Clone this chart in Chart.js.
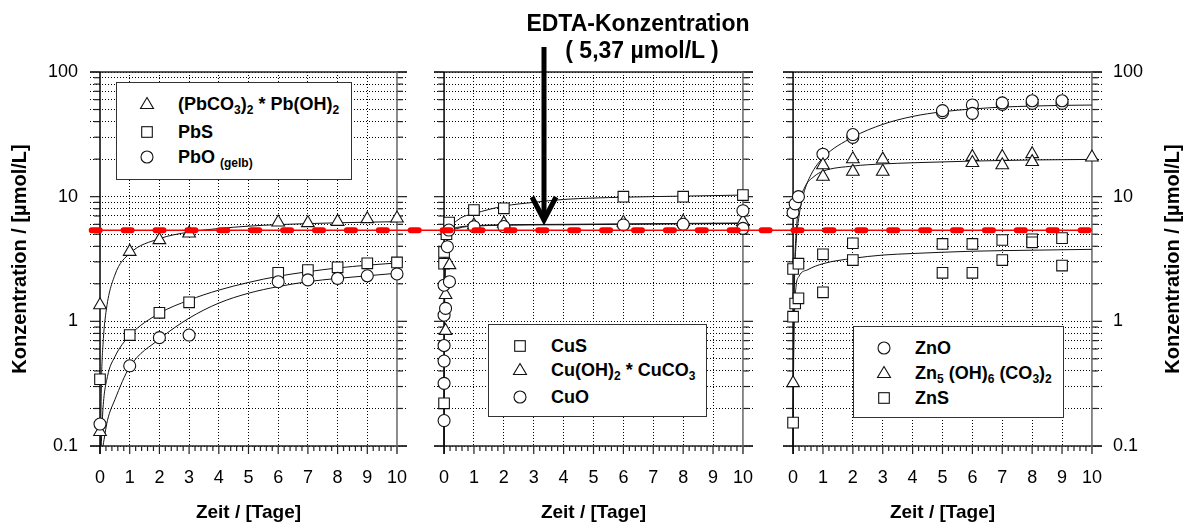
<!DOCTYPE html>
<html lang="de">
<head>
<meta charset="UTF-8">
<title>Konzentration / Zeit</title>
<script src="https://cdn.jsdelivr.net/npm/chart.js"></script>
<style>
  body { margin: 0; background: #fff; font-family: 'Liberation Sans', Arial, sans-serif; }
  #stage { position: relative; width: 1188px; height: 525px; overflow: hidden; }
  #stage canvas { position: absolute; left: 0; top: 0; }
  .legend { position: absolute; background: #fff; border: 1.4px solid #333; z-index: 5; box-sizing: border-box; }
  .row { position: absolute; height: 20px; line-height: 20px; font-weight: bold; font-size: 18px; white-space: nowrap; }
  .mk { position: absolute; width: 16px; height: 16px; }
  sub { font-size: 12px; vertical-align: -4px; line-height: 0; }
  .note { position: absolute; font-weight: bold; font-size: 23px; white-space: nowrap; transform: translate(-50%, -50%); z-index: 6; }
  .ytitle { position: absolute; font-weight: bold; font-size: 20px; white-space: nowrap;
            transform: translate(-50%, -50%) rotate(-90deg); z-index: 6; }
  #arrow { position: absolute; left: 0; top: 0; z-index: 6; }
</style>
</head>
<body>
<div id="stage">
  <canvas id="pb" width="1188" height="525"></canvas>
  <canvas id="cu" width="1188" height="525"></canvas>
  <canvas id="zn" width="1188" height="525"></canvas>

  <div class="legend" style="left:116px;top:82px;width:236px;height:98px;">
    <svg class="mk" style="left:22px;top:13px" viewBox="-8 -8 16 16"><polygon points="0,-6.5 6.5,4.5 -6.5,4.5" fill="#fff" stroke="#111" stroke-width="1.1"/></svg>
    <div class="row" style="left:61px;top:11px">(PbCO<sub>3</sub>)<sub>2</sub> * Pb(OH)<sub>2</sub></div>
    <svg class="mk" style="left:22px;top:41px" viewBox="-8 -8 16 16"><rect x="-5.3" y="-5.3" width="10.6" height="10.6" fill="#fff" stroke="#111" stroke-width="1.1"/></svg>
    <div class="row" style="left:61px;top:39px">PbS</div>
    <svg class="mk" style="left:22px;top:66px" viewBox="-8 -8 16 16"><circle r="6" fill="#fff" stroke="#111" stroke-width="1.1"/></svg>
    <div class="row" style="left:61px;top:64px">PbO <sub>(gelb)</sub></div>
  </div>

  <div class="legend" style="left:488px;top:324px;width:219px;height:93px;">
    <svg class="mk" style="left:23px;top:13px" viewBox="-8 -8 16 16"><rect x="-5.3" y="-5.3" width="10.6" height="10.6" fill="#fff" stroke="#111" stroke-width="1.1"/></svg>
    <div class="row" style="left:62px;top:11px">CuS</div>
    <svg class="mk" style="left:23px;top:37px" viewBox="-8 -8 16 16"><polygon points="0,-6.5 6.5,4.5 -6.5,4.5" fill="#fff" stroke="#111" stroke-width="1.1"/></svg>
    <div class="row" style="left:62px;top:35px">Cu(OH)<sub>2</sub> * CuCO<sub>3</sub></div>
    <svg class="mk" style="left:23px;top:64px" viewBox="-8 -8 16 16"><circle r="6" fill="#fff" stroke="#111" stroke-width="1.1"/></svg>
    <div class="row" style="left:62px;top:62px">CuO</div>
  </div>

  <div class="legend" style="left:853px;top:326px;width:211px;height:92px;">
    <svg class="mk" style="left:22px;top:13px" viewBox="-8 -8 16 16"><circle r="6" fill="#fff" stroke="#111" stroke-width="1.1"/></svg>
    <div class="row" style="left:61px;top:11px">ZnO</div>
    <svg class="mk" style="left:22px;top:38px" viewBox="-8 -8 16 16"><polygon points="0,-6.5 6.5,4.5 -6.5,4.5" fill="#fff" stroke="#111" stroke-width="1.1"/></svg>
    <div class="row" style="left:61px;top:36px">Zn<sub>5</sub> (OH)<sub>6</sub> (CO<sub>3</sub>)<sub>2</sub></div>
    <svg class="mk" style="left:22px;top:63px" viewBox="-8 -8 16 16"><rect x="-5.3" y="-5.3" width="10.6" height="10.6" fill="#fff" stroke="#111" stroke-width="1.1"/></svg>
    <div class="row" style="left:61px;top:61px">ZnS</div>
  </div>

  <div class="note" style="left:638px;top:23px;">EDTA-Konzentration</div>
  <div class="note" style="left:642px;top:50px;">( 5,37 µmol/L )</div>
  <svg id="arrow" width="1188" height="525">
    <line x1="544" y1="47" x2="544" y2="218" stroke="#000" stroke-width="5"/>
    <polyline points="532,197 544,220 556,197" fill="none" stroke="#000" stroke-width="5" stroke-linejoin="miter"/>
  </svg>

  <div class="ytitle" style="left:1172px;top:259px;">Konzentration / [µmol/L]</div>
</div>

<script>
// ticks
const dayTicks = [0, 1, 2, 3, 4, 5, 6, 7, 8, 9, 10];
const concLabels = [0.1, 1, 10, 100];
const concGrid = [0.1, 0.2, 0.3, 0.4, 0.5, 0.6, 0.7, 0.8, 0.9,
                  1, 2, 3, 4, 5, 6, 7, 8, 9,
                  10, 20, 30, 40, 50, 60, 70, 80, 90, 100];

// EDTA-Konzentration (µmol/L)
const edtaConc = 5.37;

// Blei
const pbHydroX = [0, 0, 1, 2, 3, 6, 7, 8, 9, 10];
const pbHydroY = [1.35, 0.13, 3.62, 4.49, 5.08, 6.23, 6.15, 6.3, 6.62, 6.7];
const pbSX = [0, 1, 2, 3, 6, 7, 8, 9, 10];
const pbSY = [0.343, 0.776, 1.17, 1.42, 2.45, 2.58, 2.71, 2.92, 2.97];
const pbOX = [0, 1, 2, 3, 6, 7, 8, 9, 10];
const pbOY = [0.15, 0.44, 0.74, 0.776, 2.08, 2.15, 2.21, 2.32, 2.4];

const pbHydroFitX = [0.015, 0.05, 0.1, 0.2, 0.5, 1, 2, 3, 4, 5, 6, 7, 8, 9, 10];
const pbHydroFitY = [0.1, 0.34, 0.65, 1.18, 2.35, 3.5, 4.6, 5.2, 5.55, 5.8, 5.97, 6.08, 6.17, 6.24, 6.3];
const pbSFitX = [0.04, 0.1, 0.25, 0.5, 1, 2, 3, 4, 5, 6, 7, 8, 9, 10];
const pbSFitY = [0.1, 0.2, 0.36, 0.52, 0.77, 1.16, 1.48, 1.78, 2.05, 2.3, 2.5, 2.68, 2.82, 2.94];
const pbOFitX = [0.1, 0.25, 0.5, 1, 2, 3, 4, 5, 6, 7, 8, 9, 10];
const pbOFitY = [0.1, 0.16, 0.235, 0.43, 0.72, 1.06, 1.4, 1.68, 1.9, 2.08, 2.21, 2.32, 2.43];

// Kupfer
const cuSX = [0, 0, 0, 0.08, 0.17, 1, 2, 6, 8, 10];
const cuSY = [0.22, 2.9, 3.6, 5.0, 6.2, 7.8, 8.06, 10.0, 10.0, 10.3];
const cuHydroX = [0.05, 0.05, 0.18, 1, 2, 6, 8, 10];
const cuHydroY = [0.84, 1.63, 2.83, 5.9, 6.1, 6.2, 6.3, 6.3];
const cuOX = [0, 0, 0, 0, 0, 0.05, 0, 0.18, 0.11, 0.16, 1, 2, 6, 8, 10, 10];
const cuOY = [0.16, 0.318, 0.48, 0.64, 1.12, 1.27, 1.95, 2.08, 3.97, 5.4, 5.74, 5.76, 5.93, 6.0, 5.57, 7.72];

const cuSFitX = [0, 0.02, 0.05, 0.1, 0.2, 0.5, 1, 2, 3, 4, 6, 8, 10];
const cuSFitY = [0.1, 1.5, 3.0, 4.3, 5.4, 6.6, 7.3, 8.4, 9.0, 9.5, 9.9, 10.1, 10.3];
const cuHydroFitX = [0, 0.01, 0.03, 0.06, 0.1, 0.2, 0.5, 1, 2, 4, 6, 8, 10];
const cuHydroFitY = [0.1, 1.0, 2.5, 3.8, 4.6, 5.3, 5.7, 5.85, 5.95, 6.0, 6.05, 6.1, 6.15];
const cuOFitX = [0, 0.01, 0.03, 0.06, 0.1, 0.2, 0.5, 1, 2, 4, 6, 8, 10];
const cuOFitY = [0.1, 0.8, 2.1, 3.4, 4.3, 5.1, 5.6, 5.8, 5.9, 5.95, 6.0, 6.05, 6.1];

// Zink
const znOX = [0, 0.07, 0.18, 1, 2, 2, 5, 5, 6, 6, 7, 7, 8, 8, 9, 9];
const znOY = [7.45, 8.76, 10.0, 21.9, 29.9, 31.5, 47.2, 49, 54.4, 46.6, 54.9, 56.5, 56, 58.8, 56, 58.8];
const znHydroX = [0, 1, 1, 2, 2, 3, 3, 6, 6, 7, 7, 8, 8, 10];
const znHydroY = [0.32, 17.9, 14.5, 20.0, 15.9, 19.9, 15.9, 20.9, 18.7, 20.9, 17.9, 22.0, 19.0, 20.7];
const znSX = [0, 0, 0.07, 0.18, 0, 0.18, 1, 1, 2, 2, 5, 5, 6, 6, 7, 7, 8, 8, 9, 9];
const znSY = [0.154, 1.09, 1.39, 1.53, 2.63, 2.9, 3.45, 1.71, 4.23, 3.1, 4.18, 2.45, 4.18, 2.45, 4.49, 3.1, 4.55, 4.3, 4.65, 2.8];

const znOFitX = [0, 0.02, 0.05, 0.1, 0.2, 0.35, 0.6, 1, 2, 3, 4, 5, 6, 7, 8, 9, 10];
const znOFitY = [0.1, 0.8, 2.2, 4.2, 7.0, 10.5, 15, 20.5, 30, 38, 44, 48, 50.5, 52.3, 53.3, 54, 54.3];
const znHydroFitX = [0, 0.02, 0.05, 0.1, 0.2, 0.4, 0.7, 1, 2, 3, 4, 6, 8, 10];
const znHydroFitY = [0.1, 1.0, 2.6, 5.0, 8.5, 12, 14.5, 16, 17.6, 18.3, 18.7, 19.3, 19.7, 19.9];
const znSFitX = [0, 0.02, 0.05, 0.1, 0.2, 0.5, 1, 2, 3, 4, 6, 8, 10];
const znSFitY = [0.1, 0.5, 1.2, 1.9, 2.3, 2.6, 2.9, 3.2, 3.4, 3.5, 3.65, 3.72, 3.78];

const FONT = "'Liberation Sans', Arial, sans-serif";
const INK = '#111';

function xy(xs, ys) {
  return xs.map((x, i) => ({ x: x, y: ys[i] }));
}

function marks(xs, ys, style) {
  const r = style === 'circle' ? 6 : style === 'rect' ? 7.5 : 7.3;
  return {
    data: xy(xs, ys), showLine: false, order: 1,
    pointStyle: style, pointRadius: r,
    pointBackgroundColor: '#fff', pointBorderColor: INK, pointBorderWidth: 1.1
  };
}

function fit(xs, ys) {
  return {
    data: xy(xs, ys), order: 2, pointRadius: 0,
    borderColor: INK, borderWidth: 1, cubicInterpolationMode: 'monotone'
  };
}

// red reference line: thin line plus thick rounded dashes
function edtaLine(from, to, dashOffset) {
  const pts = [{ x: from, y: edtaConc }, { x: to, y: edtaConc }];
  return [
    { data: pts, order: 0, clip: false, pointRadius: 0, borderColor: '#ff0000', borderWidth: 1.5 },
    { data: pts, order: 0, clip: false, pointRadius: 0, borderColor: '#ff0000', borderWidth: 6,
      borderCapStyle: 'round', borderDash: [8, 23.9], borderDashOffset: dashOffset }
  ];
}

function isDecade(v) {
  const l = Math.log10(v);
  return Math.abs(l - Math.round(l)) < 1e-9;
}

// solid frame, axis at 0 and 10, tick marks
const frame = {
  id: 'frame',
  beforeDatasetsDraw(chart) {
    const { ctx, chartArea: a, scales: { x, y } } = chart;
    const x0 = x.getPixelForValue(0), x10 = x.getPixelForValue(10);
    const yTop = y.getPixelForValue(100), yBot = y.getPixelForValue(0.1);
    const seg = (x1, y1, x2, y2) => { ctx.beginPath(); ctx.moveTo(x1, y1); ctx.lineTo(x2, y2); ctx.stroke(); };
    ctx.save();
    ctx.strokeStyle = '#222';
    ctx.lineWidth = 1.2;
    y.ticks.forEach(t => {
      const py = y.getPixelForValue(t.value);
      const major = isDecade(t.value);
      seg(major ? a.left : x0 - 6, py, x0, py);
      seg(x10, py, major ? a.right : x10 + 6, py);
    });
    const step = (dayTicks[1] - dayTicks[0]) / 5;
    for (let v = dayTicks[0]; v <= dayTicks[dayTicks.length - 1] + 1e-9; v += step) {
      const px = x.getPixelForValue(v);
      const major = Math.abs(v - Math.round(v)) < 1e-6;
      seg(px, yBot, px, yBot + (major ? 8 : 5));
    }
    ctx.lineWidth = 1.5;
    seg(a.left, yTop, a.right, yTop);
    seg(a.left, yBot, a.right, yBot);
    ctx.strokeStyle = '#000';
    seg(x0, yTop, x0, yBot + 8);
    ctx.strokeStyle = '#666';
    seg(x10, yTop, x10, yBot + 8);
    ctx.restore();
  }
};

function panel(id, datasets, cfg) {
  const yTitle = cfg.yTitle
    ? { display: true, text: 'Konzentration / [µmol/L]', color: '#000',
        font: { family: FONT, size: 20, weight: 'bold' }, padding: { top: 8, bottom: 0 } }
    : { display: false };
  return new Chart(document.getElementById(id), {
    type: 'line',
    data: { datasets: datasets },
    options: {
      responsive: false,
      animation: false,
      events: [],
      layout: { padding: { left: cfg.left, right: cfg.right, top: 72, bottom: 0 } },
      plugins: { legend: { display: false }, tooltip: { enabled: false } },
      scales: {
        x: {
          type: 'linear', min: -0.337, max: 10.337,
          afterBuildTicks: s => { s.ticks = dayTicks.map(v => ({ value: v })); },
          afterFit: s => { s.height = 79; },
          ticks: { autoSkip: false, maxRotation: 0, padding: 21, color: '#000',
                   font: { family: FONT, size: 18 }, callback: v => String(v) },
          grid: {
            drawTicks: false, lineWidth: 1,
            color: c => (c.tick && (c.tick.value === 0 || c.tick.value === 10)) ? 'rgba(0,0,0,0)' : '#000'
          },
          border: { display: false, dash: [1, 2] },
          title: { display: true, text: 'Zeit / [Tage]', color: '#000',
                   font: { family: FONT, size: 19, weight: 'bold' }, padding: { top: 0, bottom: 1 } }
        },
        y: {
          type: 'logarithmic', min: 0.1, max: 100,
          position: cfg.yPos,
          afterBuildTicks: s => { s.ticks = concGrid.map(v => ({ value: v, major: isDecade(v) })); },
          afterFit: s => { s.width = cfg.yWidth; },
          ticks: { display: cfg.yLabels, autoSkip: false, padding: cfg.yPad, color: '#000',
                   font: { family: FONT, size: 18 },
                   callback: v => concLabels.includes(v) ? String(v) : '' },
          grid: { drawTicks: false, lineWidth: 1, color: '#000' },
          border: { display: false, dash: [1, 2] },
          title: yTitle
        }
      }
    },
    plugins: [frame]
  });
}

panel('pb', [
  ...edtaLine(-0.337, 11.25, 30.2),
  marks(pbOX, pbOY, 'circle'),
  marks(pbSX, pbSY, 'rect'),
  marks(pbHydroX, pbHydroY, 'triangle'),
  fit(pbHydroFitX, pbHydroFitY),
  fit(pbSFitX, pbSFitY),
  fit(pbOFitX, pbOFitY)
], { left: 0, right: 781, yPos: 'left', yWidth: 90, yLabels: true, yPad: 12, yTitle: true });

panel('cu', [
  ...edtaLine(-0.337, 11.34, 23.3),
  marks(cuOX, cuOY, 'circle'),
  marks(cuHydroX, cuHydroY, 'triangle'),
  marks(cuSX, cuSY, 'rect'),
  fit(cuSFitX, cuSFitY),
  fit(cuHydroFitX, cuHydroFitY),
  fit(cuOFitX, cuOFitY)
], { left: 434, right: 435, yPos: 'left', yWidth: 0, yLabels: false, yPad: 0, yTitle: false });

panel('zn', [
  ...edtaLine(-0.337, 10, 21.4),
  marks(znSX, znSY, 'rect'),
  marks(znHydroX, znHydroY, 'triangle'),
  marks(znOX, znOY, 'circle'),
  fit(znOFitX, znOFitY),
  fit(znHydroFitX, znHydroFitY),
  fit(znSFitX, znSFitY)
], { left: 783, right: 0, yPos: 'right', yWidth: 86, yLabels: true, yPad: 11, yTitle: false });
</script>
</body>
</html>
